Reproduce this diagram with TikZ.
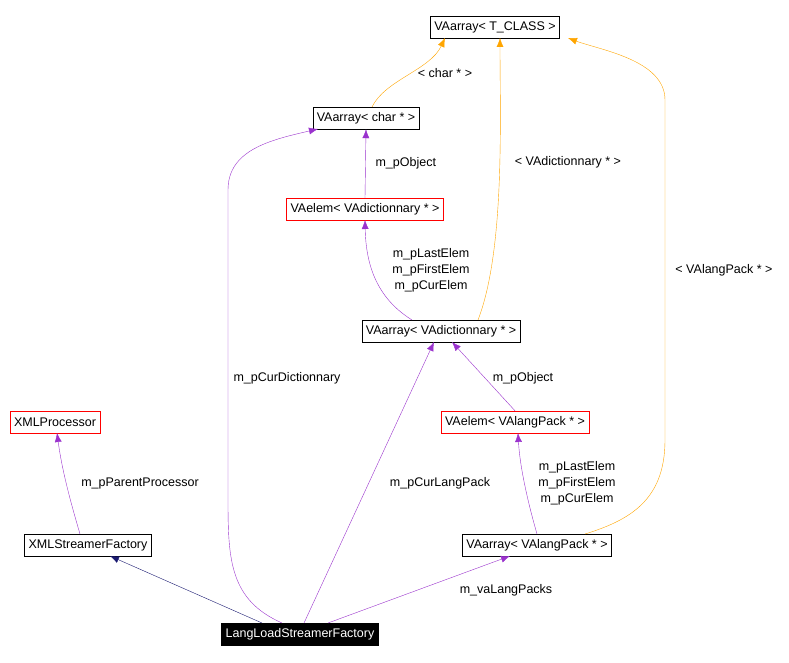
\documentclass[tikz,border=0pt]{standalone}
\usepackage{fontspec}
\setmainfont{Liberation Sans}
\usetikzlibrary{positioning,arrows.meta}
\definecolor{edgepurple}{HTML}{9A32CD}
\definecolor{edgeorange}{HTML}{FFA500}
\definecolor{edgenavy}{HTML}{191970}
\tikzset{
  cls/.style={draw=black,fill=white,inner xsep=4pt,inner ysep=0pt,minimum height=22pt,font=\fontsize{12.5}{14}\selectfont},
  inc/.style={cls,draw=red},
  main/.style={cls,fill=black,text=white},
  use/.style={draw=edgepurple,-{Latex[length=9pt,width=7pt]}},
  tmpl/.style={draw=edgeorange,-{Latex[length=9pt,width=7pt]}},
  inh/.style={draw=edgenavy,-{Latex[length=9pt,width=7pt]}},
  lbl/.style={font=\fontsize{12.5}{16}\selectfont,align=center}
}
\begin{document}
\begin{tikzpicture}[x=1pt,y=-1pt]
  \useasboundingbox (0,0) rectangle (789,663);
  % classes
  \node[cls] (tclass) at (495,27) {VAarray< T\_CLASS >};
  \node[cls] (achar) at (366,118) {VAarray< char * >};
  \node[inc] (edict) at (365,209) {VAelem< VAdictionnary * >};
  \node[cls] (adict) at (441,331) {VAarray< VAdictionnary * >};
  \node[inc] (xmlproc) at (55,422) {XMLProcessor};
  \node[inc] (elang) at (515,422) {VAelem< VAlangPack * >};
  \node[cls] (xmlfact) at (88,545) {XMLStreamerFactory};
  \node[cls] (alang) at (537,545) {VAarray< VAlangPack * >};
  \node[main] (llsf) at (300,634) {LangLoadStreamerFactory};
  % template instances
  \draw[tmpl] (372,107) .. controls (385,80) and (430,70) .. (445,38);
  \draw[tmpl] (478,320) .. controls (505,250) and (500,120) .. (500,38);
  \draw[tmpl] (585,534) .. controls (630,520) and (665,500) .. (665,440)
    -- (665,100) .. controls (665,60) and (600,50) .. (568,38);
  \node[lbl] at (445,73) {< char * >};
  \node[lbl] at (568,162) {< VAdictionnary * >};
  \node[lbl] at (724,270) {< VAlangPack * >};
  % members
  \draw[use] (edict.north) -- (achar.south);
  \node[lbl,anchor=west] at (372,163) {m\_pObject};
  \draw[use] (412,320) .. controls (380,300) and (366,270) .. (365,220);
  \node[lbl] at (431,270) {m\_pLastElem\\m\_pFirstElem\\m\_pCurElem};
  \draw[use] (elang.north) -- (452,342);
  \node[lbl] at (523,378) {m\_pObject};
  \draw[use] (537,534) .. controls (530,510) and (520,470) .. (518,433);
  \node[lbl] at (577,483) {m\_pLastElem\\m\_pFirstElem\\m\_pCurElem};
  \draw[use] (80,534) .. controls (70,500) and (62,470) .. (57,433);
  \node[lbl] at (140,483) {m\_pParentProcessor};
  \draw[inh] (262,623) -- (110,556);
  \draw[use] (282,623) .. controls (230,600) and (228,560) .. (228,500)
    -- (228,190) .. controls (228,150) and (270,140) .. (318,129);
  \node[lbl] at (287,378) {m\_pCurDictionnary};
  \draw[use] (304,623) -- (434,342);
  \node[lbl] at (440,483) {m\_pCurLangPack};
  \draw[use] (328,623) -- (510,556);
  \node[lbl] at (506,590) {m\_vaLangPacks};
\end{tikzpicture}
\end{document}
